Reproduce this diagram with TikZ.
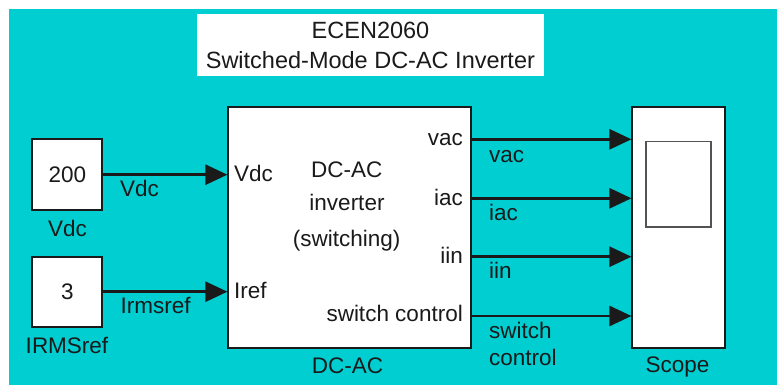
\documentclass[tikz,border=0pt]{standalone}
\usepackage{fontspec}
\setmainfont{Liberation Sans}
\usetikzlibrary{arrows.meta}
\definecolor{simcyan}{HTML}{00CED1}
\definecolor{ink}{HTML}{1A1A1A}
\newcommand{\lblfont}{\fontsize{22.5}{27}\selectfont}
\newcommand{\ttlfont}{\fontsize{23.5}{30}\selectfont}

\begin{document}
\begin{tikzpicture}[x=1pt,y=-1pt,
  blockbox/.style={draw=ink,line width=1.8pt,fill=white,inner sep=0pt,font=\lblfont,text=ink},
  lbl/.style={inner sep=0pt,font=\lblfont,text=ink},
  sig/.style={draw=ink,line width=2.6pt,-{Triangle[length=22pt,width=20pt]}}]
  % canvas
  \fill[white] (0,0) rectangle (777,385);
  \fill[simcyan] (8.5,9.3) rectangle (777,385);
  \useasboundingbox (0,0) rectangle (777,385);
  % title
  \node[fill=white,inner sep=0pt,minimum width=346.7pt,minimum height=62pt] (titlebox) at (370.7,45) {};
  \node[lbl,font=\ttlfont,anchor=base] (title1) at (370.5,38.3) {ECEN2060};
  \node[lbl,font=\ttlfont,anchor=base] (title2) at (370.4,68.3) {Switched-Mode DC-AC Inverter};
  % sources
  \node[blockbox,minimum width=70pt,minimum height=70.7pt] (vdcsrc) at (67.3,174.7) {200};
  \node[lbl,anchor=base] (vdcname) at (67.5,236.7) {Vdc};
  \node[blockbox,minimum width=70pt,minimum height=70pt] (irmssrc) at (67.3,291.7) {3};
  \node[lbl,anchor=base] (irmsname) at (67,353.3) {IRMSref};
  % inverter block
  \node[blockbox,minimum width=242.4pt,minimum height=241.6pt] (dcac) at (349.5,227.5) {};
  \node[lbl,anchor=base] (inv1) at (346.7,178) {DC-AC};
  \node[lbl,anchor=base] (inv2) at (347,211) {inverter};
  \node[lbl,anchor=base] (inv3) at (346.7,247) {(switching)};
  \node[lbl,anchor=base] (dcacname) at (347.5,373) {DC-AC};
  % input ports
  \node[lbl,anchor=base west] (pvdc) at (234,181.7) {Vdc};
  \node[lbl,anchor=base west] (piref) at (234,298) {Iref};
  % output ports
  \node[lbl,anchor=base east] (pvac) at (463,146) {vac};
  \node[lbl,anchor=base east] (piac) at (463,205) {iac};
  \node[lbl,anchor=base east] (piin) at (463,263) {iin};
  \node[lbl,anchor=base east] (psw) at (463,321.7) {switch control};
  % scope
  \node[blockbox,minimum width=92.7pt,minimum height=241.3pt] (scope) at (678.7,227.3) {};
  \node[draw=ink!75,line width=1.6pt,fill=white,inner sep=0pt,minimum width=65pt,minimum height=85pt] (screen) at (678.2,184.2) {};
  \node[lbl,anchor=base] (scopename) at (677.5,372) {Scope};
  % signal rows
  \coordinate (rowvac) at (0,139.3);
  \coordinate (rowiac) at (0,198.3);
  \coordinate (rowiin) at (0,256.7);
  \coordinate (rowsw) at (0,316);
  % inputs
  \draw[sig] (vdcsrc.east) -- (vdcsrc.east -| dcac.west);
  \draw[sig] (irmssrc.east) -- (irmssrc.east -| dcac.west);
  \node[lbl,anchor=base west] (lvdc) at (120,196.7) {Vdc};
  \node[lbl,anchor=base west] (lirms) at (120.5,313.3) {Irmsref};
  % outputs
  \draw[sig] (dcac.east |- rowvac) -- (scope.west |- rowvac);
  \draw[sig] (dcac.east |- rowiac) -- (scope.west |- rowiac);
  \draw[sig] (dcac.east |- rowiin) -- (scope.west |- rowiin);
  \draw[sig] (dcac.east |- rowsw) -- (scope.west |- rowsw);
  \node[lbl,anchor=base west] (lvac) at (489,162.7) {vac};
  \node[lbl,anchor=base west] (liac) at (489,220.7) {iac};
  \node[lbl,anchor=base west] (liin) at (489,278) {iin};
  \node[lbl,anchor=base west] (lsw1) at (489,338) {switch};
  \node[lbl,anchor=base west] (lsw2) at (489,365) {control};
\end{tikzpicture}
\end{document}
